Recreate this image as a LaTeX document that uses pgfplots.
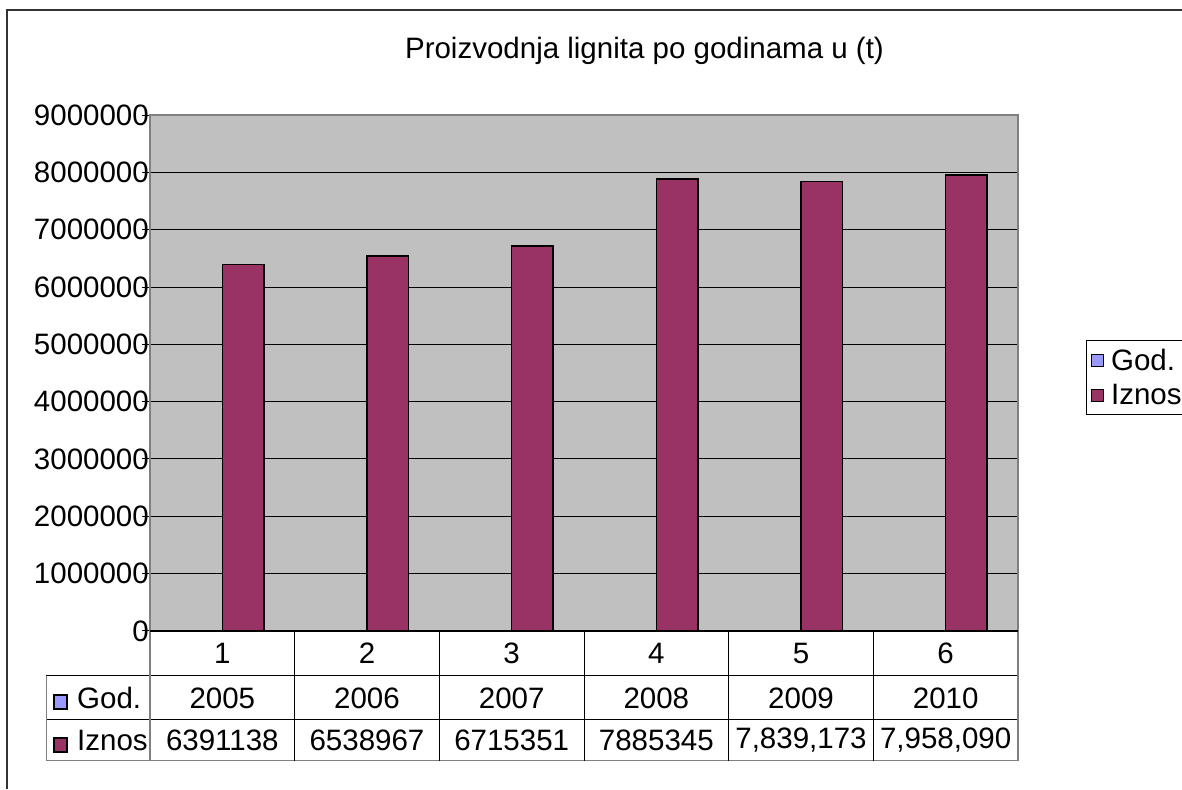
\documentclass[border=0pt]{standalone}
\usepackage{fontspec}
\setmainfont{Liberation Sans}
\usepackage{pgfplots}
\pgfplotsset{compat=1.18}
\definecolor{godblue}{HTML}{9999FF}
\definecolor{iznos}{HTML}{993366}
\definecolor{plotgray}{HTML}{C0C0C0}
\definecolor{framegray}{HTML}{808080}

\newcommand{\bigfont}{\fontsize{29.5}{34}\selectfont}

\begin{document}
\begin{tikzpicture}[x=1pt,y=1pt]
\useasboundingbox (0,0) rectangle (1182,789);
\clip (0,0) rectangle (1182,789);
% chart area frame (only top and left visible)
\draw[line width=1.5pt,black!80] (7,0) -- (7,779) -- (1190,779);
\node[font=\bigfont,anchor=base] at (644.5,730) {Proizvodnja lignita po godinama u (t)};

\begin{axis}[
  at={(150pt,158pt)}, anchor=south west,
  width=868pt, height=516pt, scale only axis,
  ybar=0pt, bar width=41.5pt,
  xmin=0.5, xmax=6.5, ymin=0, ymax=9000000,
  xtick=\empty, ytick pos=left,
  ytick={0,1000000,...,9000000},
  yticklabels={0,1000000,2000000,3000000,4000000,5000000,6000000,7000000,8000000,9000000},
  scaled y ticks=false,
  yticklabel style={font=\bigfont, inner sep=0pt, xshift=7pt},
  /pgf/number format/assume math mode=true,
  tick align=outside, major tick length=8pt,
  tick style={black, line width=1pt},
  ymajorgrids, grid style={black, line width=1pt},
  axis background/.style={fill=plotgray},
  axis line style={framegray, line width=1.5pt},
  legend style={at={(1.078,0.563)}, anchor=north west, draw=black, fill=white,
    font=\bigfont, row sep=9pt, inner xsep=5pt, inner ysep=6pt,
    /tikz/every odd column/.append style={column sep=5pt}},
  legend cell align=left,
  clip=false,
]
\addplot[fill=godblue, draw=black, line width=1.6pt,
  legend image code/.code={\draw[fill=godblue,draw=black,line width=1.2pt] (0pt,-6pt) rectangle (12pt,6pt);}]
  coordinates {(1,2005) (2,2006) (3,2007) (4,2008) (5,2009) (6,2010)};
\addplot[fill=iznos, draw=black, line width=1.6pt,
  legend image code/.code={\draw[fill=iznos,draw=black,line width=1.2pt] (0pt,-6pt) rectangle (12pt,6pt);}]
  coordinates {(1,6391138) (2,6538967) (3,6715351) (4,7885345) (5,7839173) (6,7958090)};
\legend{God.,Iznos}
\draw[black,line width=1.6pt] (axis cs:0.5,0) -- (axis cs:6.5,0);
\end{axis}

% data table
\draw[line width=1pt] (46,113) -- (1018,113);
\draw[line width=1pt] (46,69) -- (1018,69);
\draw[line width=1pt,framegray] (46,28) -- (1018,28);
\draw[line width=1pt,framegray] (46,113) -- (46,28);
\draw[line width=1.5pt,framegray] (150,157) -- (150,28);
\draw[line width=1.5pt,framegray] (1018,157) -- (1018,28);
\foreach \k in {1,...,5}{
  \draw[line width=1pt] ({150+144.667*\k},158) -- ({150+144.667*\k},28);
}
\foreach \v [count=\i] in {1,2,3,4,5,6}{
  \node[font=\bigfont] at ({150+144.667*(\i-0.5)},135.5) {\v};
}
\foreach \v [count=\i] in {2005,2006,2007,2008,2009,2010}{
  \node[font=\bigfont] at ({150+144.667*(\i-0.5)},91) {\v};
}
\foreach \v [count=\i] in {6391138,6538967,6715351,7885345,{7,839,173},{7,958,090}}{
  \node[font=\bigfont] at ({150+144.667*(\i-0.5)},48.5) {\v};
}
\draw[fill=godblue,line width=1.2pt] (54,80) rectangle (67,94);
\node[font=\bigfont,anchor=west,inner sep=0pt] at (77,91) {God.};
\draw[fill=iznos,line width=1.2pt] (54,37) rectangle (67,51);
\node[font=\bigfont,anchor=west,inner sep=0pt] at (77,48.5) {Iznos};
\end{tikzpicture}
\end{document}
